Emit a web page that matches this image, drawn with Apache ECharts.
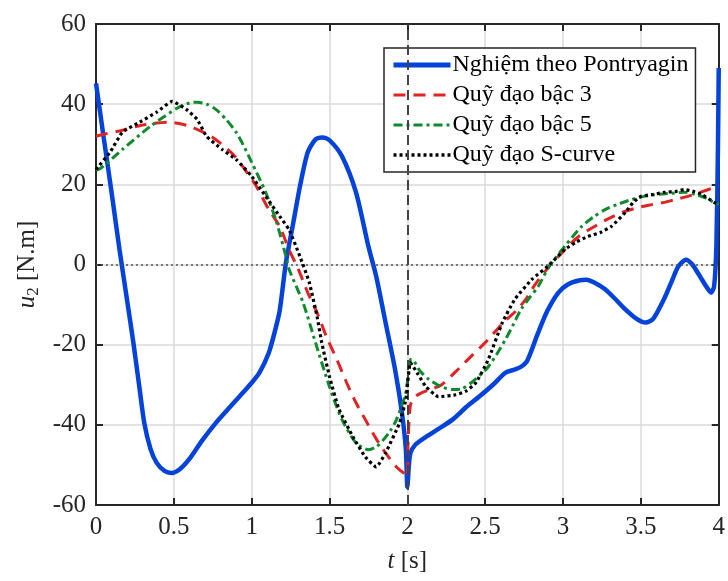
<!DOCTYPE html>
<html>
<head>
<meta charset="utf-8">
<script src="https://cdn.jsdelivr.net/npm/echarts@6/dist/echarts.min.js"></script>
<style>html,body{margin:0;padding:0;background:#fff;}#c{width:728px;height:581px;}</style>
</head>
<body>
<div id="c"></div>
<script>
const seriesNames = ['Nghiệm theo Pontryagin', 'Quỹ đạo bậc 3', 'Quỹ đạo bậc 5', 'Quỹ đạo S-curve'];
const xTicks = [0, 0.5, 1, 1.5, 2, 2.5, 3, 3.5, 4];
const yTicks = [-60, -40, -20, 0, 20, 40, 60];
const switchTime = 2;

const pontryagin = [[0,45.2],[0.05,31.5],[0.1,18],[0.15,4],[0.2,-9],[0.24,-19.5],[0.28,-31],[0.31,-39.5],[0.35,-46],[0.39,-49.5],[0.44,-51.5],[0.485,-52],[0.54,-51],[0.6,-48.5],[0.68,-44],[0.77,-39.5],[0.85,-36],[0.92,-33],[1.0,-29.5],[1.05,-27],[1.11,-22],[1.15,-16.5],[1.18,-11.5],[1.22,0.5],[1.27,11],[1.31,19.5],[1.36,28],[1.41,31.2],[1.455,31.7],[1.5,31],[1.58,27],[1.67,18],[1.75,4.5],[1.8,-3],[1.86,-14.5],[1.92,-26],[1.965,-37],[1.99,-46],[2.0,-55.5],[2.01,-50],[2.02,-47],[2.05,-45],[2.1,-43.5],[2.2,-41],[2.29,-38.7],[2.38,-35.5],[2.46,-33],[2.55,-30],[2.63,-27],[2.69,-26.2],[2.73,-25.5],[2.77,-24],[2.84,-17],[2.9,-11.5],[2.97,-7],[3.03,-5],[3.1,-4],[3.15,-3.8],[3.2,-4.5],[3.27,-6.2],[3.34,-8.8],[3.4,-11.2],[3.47,-13.5],[3.53,-14.5],[3.58,-13.5],[3.65,-8.5],[3.7,-4],[3.74,-0.5],[3.79,1.2],[3.83,0],[3.88,-3],[3.92,-5.5],[3.95,-7],[3.97,-5.5],[3.985,5],[3.995,30],[4.0,49]];

const cubic = [[0,32],[0.05,32.5],[0.17,33.5],[0.3,34.8],[0.47,35.5],[0.6,34.5],[0.75,31.7],[0.88,27.5],[0.96,23.5],[1.03,19.5],[1.11,13.7],[1.18,9.5],[1.24,3.7],[1.3,-1.2],[1.36,-7],[1.42,-12],[1.48,-18],[1.55,-24],[1.61,-29.5],[1.67,-34.5],[1.73,-38.7],[1.8,-43.5],[1.86,-47],[1.93,-50.5],[1.99,-52.5],[2.0,-53],[2.005,-44],[2.02,-35],[2.05,-33],[2.09,-32],[2.16,-31],[2.22,-30],[2.33,-26],[2.42,-22.5],[2.5,-19.5],[2.57,-16.5],[2.63,-14],[2.7,-11.5],[2.76,-8.7],[2.82,-5],[2.88,-2],[2.93,0.5],[2.97,2],[3.03,4.5],[3.1,7],[3.18,9],[3.27,11],[3.36,12.7],[3.46,14],[3.55,14.8],[3.65,15.5],[3.72,16.2],[3.8,17],[3.88,18],[3.97,19.2],[4.0,19.7]];

const quintic = [[0,23.5],[0.03,24],[0.17,28.7],[0.35,34.5],[0.52,39],[0.6,40.3],[0.65,40.5],[0.71,40],[0.77,38.7],[0.84,36],[0.9,33],[0.95,29.5],[1.0,25.5],[1.09,18],[1.16,10.5],[1.22,2],[1.24,-1.2],[1.33,-9.5],[1.41,-19.5],[1.5,-30.5],[1.58,-38.7],[1.67,-44.5],[1.75,-46.2],[1.8,-45.5],[1.84,-44],[1.89,-41.5],[1.93,-38.7],[1.99,-32],[2.02,-23.7],[2.03,-23.7],[2.08,-26.5],[2.14,-28.7],[2.22,-30.5],[2.29,-31.2],[2.35,-31],[2.41,-29.5],[2.47,-27.5],[2.52,-25.5],[2.58,-22],[2.63,-18.7],[2.68,-15],[2.73,-11.2],[2.79,-8],[2.84,-5.5],[2.91,-0.5],[2.95,1.5],[3.01,4.5],[3.12,9.5],[3.2,12],[3.27,13.7],[3.35,15],[3.44,16.2],[3.52,17],[3.61,17.5],[3.7,17.8],[3.78,18],[3.85,17.5],[3.91,16.7],[3.96,15.7],[4.0,15]];

const scurve = [[0,23.7],[0.09,28],[0.17,33],[0.28,35.5],[0.39,38],[0.49,40.7],[0.58,38.7],[0.65,36.2],[0.71,32],[0.81,28.7],[0.9,26.2],[1.0,22],[1.09,17],[1.18,12],[1.24,8.7],[1.31,2],[1.37,-4.5],[1.42,-13],[1.45,-19.5],[1.5,-28],[1.56,-36],[1.65,-43],[1.73,-48],[1.8,-50.5],[1.86,-47],[1.95,-39.5],[1.99,-33.7],[2.02,-24.5],[2.07,-27.5],[2.12,-30.5],[2.2,-33],[2.31,-32.5],[2.38,-31.5],[2.44,-29.5],[2.52,-23.7],[2.61,-14.5],[2.69,-8.7],[2.8,-3.7],[2.9,-0.5],[3.01,3.7],[3.08,5.5],[3.16,7],[3.24,8],[3.31,9.5],[3.4,13],[3.45,15.5],[3.5,17],[3.58,17.5],[3.65,18],[3.72,18.2],[3.78,18.7],[3.84,18.2],[3.89,17.5],[3.97,15.5],[4.0,15]];

const chart = echarts.init(document.getElementById('c'));
const FONT = 'Liberation Serif';
const AX = '#262626';
const BLUE = '#0443d9', RED = '#e02424', GREEN = '#0f8a2c', BLACK = '#000';
const axisCommon = {
  axisLine: { show: true, onZero: false, lineStyle: { color: AX, width: 2 } },
  axisTick: { show: true, inside: true, length: 7, lineStyle: { color: AX, width: 2 } }
};
chart.setOption({
  animation: false,
  backgroundColor: '#fff',
  grid: { left: 96, right: 7, top: 24, bottom: 76, containLabel: false },
  legend: {
    data: [
      { name: seriesNames[0], lineStyle: { width: 5, color: BLUE, type: 'solid' } },
      { name: seriesNames[1], lineStyle: { width: 3.2, color: RED, type: [12, 8] } },
      { name: seriesNames[2], lineStyle: { width: 3.2, color: GREEN, type: [9, 4, 3, 4] } },
      { name: seriesNames[3], lineStyle: { width: 3.4, color: BLACK, type: [3, 3] } }
    ],
    orient: 'vertical',
    left: 384, top: 48,
    padding: [5, 7, 5, 7],
    itemGap: 6,
    itemWidth: 57, itemHeight: 14,
    itemStyle: { opacity: 0 },
    backgroundColor: '#fff',
    borderColor: AX, borderWidth: 1.5, borderRadius: 0,
    textStyle: { fontFamily: FONT, fontSize: 24, color: '#000', lineHeight: 24, padding: [0,0,0,-3] }
  },
  xAxis: [
    Object.assign({
      type: 'value', min: 0, max: 4, interval: 0.5,
      name: '{i|t} [s]', nameLocation: 'middle', nameGap: 44,
      nameTextStyle: { fontFamily: FONT, fontSize: 25, color: AX, rich: { i: { fontFamily: FONT, fontStyle: 'italic', fontSize: 25, color: AX } } },
      axisLabel: { fontFamily: FONT, fontSize: 25, color: AX, margin: 10, formatter: v => xTicks.includes(v) ? String(v) : '' },
      splitLine: { show: true, lineStyle: { color: '#dadada', width: 1.5 } }
    }, axisCommon),
    Object.assign({
      type: 'value', min: 0, max: 4, interval: 0.5, position: 'top',
      axisLabel: { show: false }, splitLine: { show: false }
    }, axisCommon)
  ],
  yAxis: [
    Object.assign({
      type: 'value', min: -60, max: 60, interval: 20,
      name: '{i|u}{s|2} [N.m]', nameLocation: 'middle', nameGap: 54, nameRotate: 90,
      nameTextStyle: { fontFamily: FONT, fontSize: 25, color: AX, rich: {
        i: { fontFamily: FONT, fontStyle: 'italic', fontSize: 25, color: AX },
        s: { fontFamily: FONT, fontSize: 17, color: AX, verticalAlign: 'bottom', padding: [12, 0, 0, 0] } } },
      axisLabel: { fontFamily: FONT, fontSize: 25, color: AX, margin: 10, formatter: v => yTicks.includes(v) ? String(v) : '' },
      splitLine: { show: true, lineStyle: { color: '#dadada', width: 1.5 } }
    }, axisCommon),
    Object.assign({
      type: 'value', min: -60, max: 60, interval: 20, position: 'right',
      axisLabel: { show: false }, splitLine: { show: false }
    }, axisCommon)
  ],
  series: [
    {
      name: 'ref', type: 'line', data: [], silent: true,
      markLine: {
        silent: true, symbol: 'none', label: { show: false },
        data: [
          { yAxis: 0, lineStyle: { color: '#555', width: 1.5, type: [2, 3] } },
          { xAxis: switchTime, lineStyle: { color: '#444', width: 2, type: [10, 5] } }
        ]
      }
    },
    {
      name: seriesNames[1], type: 'line', data: cubic, showSymbol: false, symbol: 'none', smooth: 0.25,
      lineStyle: { color: RED, width: 3, type: [12, 8] }, itemStyle: { color: RED }, z: 3
    },
    {
      name: seriesNames[2], type: 'line', data: quintic, showSymbol: false, symbol: 'none', smooth: 0.25,
      lineStyle: { color: GREEN, width: 3, type: [9, 4, 3, 4] }, itemStyle: { color: GREEN }, z: 4
    },
    {
      name: seriesNames[3], type: 'line', data: scurve, showSymbol: false, symbol: 'none', smooth: 0.15,
      lineStyle: { color: BLACK, width: 3.2, type: [3, 3] }, itemStyle: { color: BLACK }, z: 5
    },
    {
      name: seriesNames[0], type: 'line', data: pontryagin, showSymbol: false, symbol: 'none', smooth: 0.25,
      lineStyle: { color: BLUE, width: 4.5 }, itemStyle: { color: BLUE }, z: 2
    }
  ]
});
</script>
</body>
</html>
